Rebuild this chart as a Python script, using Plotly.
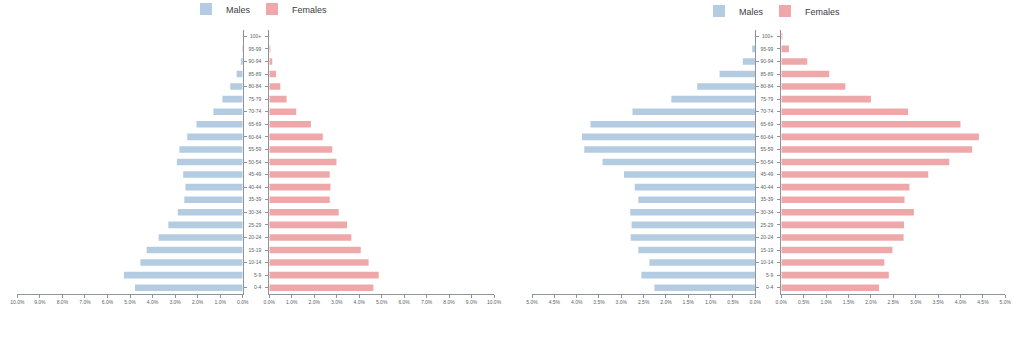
import plotly.graph_objects as go

ages = ["0-4", "5-9", "10-14", "15-19", "20-24", "25-29", "30-34", "35-39",
        "40-44", "45-49", "50-54", "55-59", "60-64", "65-69", "70-74", "75-79",
        "80-84", "85-89", "90-94", "95-99", "100+"]

left_males = [4.78, 5.27, 4.54, 4.26, 3.73, 3.30, 2.88, 2.59, 2.54, 2.64, 2.92,
              2.81, 2.46, 2.05, 1.30, 0.90, 0.55, 0.27, 0.08, 0.01, 0.0]
left_females = [4.63, 4.87, 4.42, 4.07, 3.65, 3.46, 3.09, 2.69, 2.72, 2.69, 2.99,
                2.80, 2.38, 1.85, 1.20, 0.77, 0.49, 0.30, 0.13, 0.02, 0.0]
right_males = [2.26, 2.55, 2.37, 2.62, 2.79, 2.77, 2.80, 2.62, 2.70, 2.94, 3.42,
               3.83, 3.88, 3.69, 2.75, 1.88, 1.30, 0.80, 0.28, 0.07, 0.0]
right_females = [2.18, 2.40, 2.30, 2.48, 2.73, 2.74, 2.96, 2.75, 2.86, 3.28, 3.75,
                 4.26, 4.41, 4.00, 2.83, 2.00, 1.43, 1.07, 0.58, 0.17, 0.02]

left_ticks = [0, 1, 2, 3, 4, 5, 6, 7, 8, 9, 10]
right_ticks = [0, 0.5, 1, 1.5, 2, 2.5, 3, 3.5, 4, 4.5, 5]

MALE = "#b3cce2"
FEMALE = "#eea8aa"
AX = "#8e949c"
TXT = "#5a5f66"
W, H = 1024, 339
FONT = "Liberation Sans, Arial, sans-serif"


def px(x):
    return x / W


def py(y):
    return 1 - y / H


fig = go.Figure()

traces = [
    (left_males, "Males", MALE, "x", "y", "legend", 21),
    (left_females, "Females", FEMALE, "x2", "y2", "legend", None),
    (right_males, "Males", MALE, "x3", "y3", "legend2", 21),
    (right_females, "Females", FEMALE, "x4", "y4", "legend2", None),
]
for vals, name, col, xa, ya, lg, lw in traces:
    kw = {}
    if lw is not None:
        kw["legendwidth"] = lw
    fig.add_trace(go.Bar(
        x=vals, y=ages, orientation="h", name=name,
        marker=dict(color=col, line=dict(width=0)),
        xaxis=xa, yaxis=ya, legend=lg, hoverinfo="x+y+name", **kw,
    ))

ydom = [py(294), py(30)]
xdoms = {
    "xaxis": [px(17.3), px(242.7)],
    "xaxis2": [px(269.3), px(494.0)],
    "xaxis3": [px(532.0), px(755.3)],
    "xaxis4": [px(781.3), px(1005.3)],
}
ranges = {
    "xaxis": ([10, 0], left_ticks),
    "xaxis2": ([0, 10], left_ticks),
    "xaxis3": ([5, 0], right_ticks),
    "xaxis4": ([0, 5], right_ticks),
}
anchors = {"xaxis": "y", "xaxis2": "y2", "xaxis3": "y3", "xaxis4": "y4"}

layout = dict(
    width=W, height=H,
    margin=dict(l=0, r=0, t=0, b=0, autoexpand=False),
    paper_bgcolor="white", plot_bgcolor="white",
    bargap=0.48,
    showlegend=True,
    font=dict(family=FONT, color=TXT),
)

for k, dom in xdoms.items():
    rng, tv = ranges[k]
    layout[k] = dict(
        domain=dom, range=rng, anchor=anchors[k],
        tickmode="array", tickvals=tv,
        ticktext=[f"{v:.1f}%" for v in tv],
        showgrid=False, zeroline=False,
        showline=True, linecolor=AX, linewidth=1,
        ticks="outside", ticklen=3, tickcolor=AX, tickwidth=1,
        tickfont=dict(size=5, color=TXT, family=FONT),
        fixedrange=True,
    )

ybase = dict(
    domain=ydom, type="category", categoryorder="array", categoryarray=ages,
    range=[-0.5, len(ages) - 0.5],
    showgrid=False, zeroline=False,
    showline=True, linecolor=AX, linewidth=1,
    ticks="outside", ticklen=3, tickcolor=AX, tickwidth=1,
    tickfont=dict(size=5, color=TXT, family=FONT),
    fixedrange=True,
)
layout["yaxis"] = dict(ybase, anchor="x", side="right", showticklabels=False)
layout["yaxis2"] = dict(ybase, anchor="x2", side="left", showticklabels=True,
                        ticklabelstandoff=3)
layout["yaxis3"] = dict(ybase, anchor="x3", side="right", showticklabels=False)
layout["yaxis4"] = dict(ybase, anchor="x4", side="left", showticklabels=True,
                        ticklabelstandoff=3)

leg = dict(orientation="h", xanchor="left", yanchor="middle",
           font=dict(size=9, color="#3a3d42", family=FONT),
           bgcolor="rgba(0,0,0,0)", borderwidth=0)
layout["legend"] = dict(leg, x=px(186), y=py(9))
layout["legend2"] = dict(leg, x=px(699), y=py(11))

fig.update_layout(**layout)
fig.write_html("out.html")
